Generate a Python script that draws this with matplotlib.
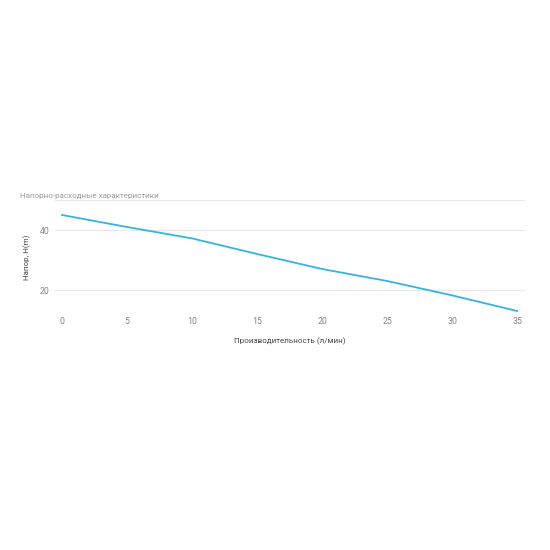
import matplotlib
matplotlib.use("Agg")
import matplotlib.pyplot as plt

# flow (l/min) vs head (m)
flow = [0, 5, 10, 15, 20, 25, 30, 35]
head = [45, 41, 37.2, 32, 27, 23, 18.2, 13]
y_ticks = [20, 40]
x_ticks = [0, 5, 10, 15, 20, 25, 30, 35]

plt.rcParams['font.family'] = ['Roboto', 'DejaVu Sans']

fig = plt.figure(figsize=(5.5, 5.5), dpi=100)
ax = fig.add_axes([55 / 550, 236 / 550, 470 / 550, 114 / 550])

ax.plot(flow, head, color='#33b5e0', linewidth=1.3)

ax.set_xlim(-0.54, 35.6)
ax.set_ylim(12, 50)
ax.set_xticks(x_ticks)
ax.set_yticks(y_ticks + [50])
ax.set_yticklabels([str(v) for v in y_ticks] + [''])
ax.grid(axis='y', color='#e8e8e8', linewidth=0.9)
ax.set_axisbelow(True)
for s in ax.spines.values():
    s.set_visible(False)
ax.tick_params(length=0, labelsize=6.3, colors='#858585')
ax.tick_params(axis='x', pad=2)
ax.tick_params(axis='y', pad=4)

ax.set_xlabel('Производительность (л/мин)', fontsize=5.8, color='#444444', labelpad=8.5)
ax.set_ylabel('Напор, H(m)', fontsize=5.8, color='#444444', labelpad=6)

fig.text(20 / 550, 1 - 196 / 550, 'Напорно-расходные характеристики',
         fontsize=5.8, color='#9a9a9a', ha='left', va='center')

fig.savefig('out.png', dpi=100, facecolor='white')
